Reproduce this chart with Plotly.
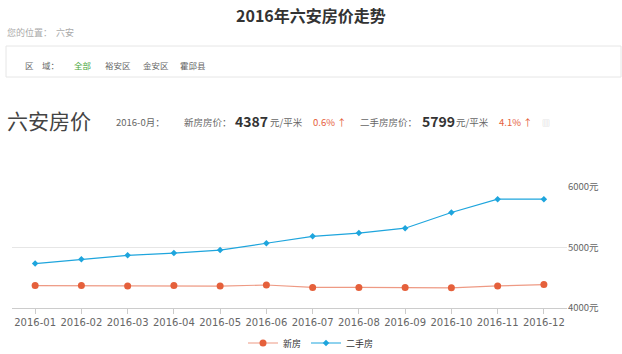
import plotly.graph_objects as go

months = ["2016-01", "2016-02", "2016-03", "2016-04", "2016-05", "2016-06",
          "2016-07", "2016-08", "2016-09", "2016-10", "2016-11", "2016-12"]
new_price = [4370, 4370, 4362, 4370, 4362, 4380, 4340, 4340, 4340, 4333, 4365, 4387]
second_price = [4735, 4805, 4870, 4908, 4957, 5070, 5184, 5238, 5319, 5578, 5799, 5799]
y_ticks = [4000, 5000, 6000]

W, H = 622, 354
L, R, T, B = 12, 55, 187, 46
PW, PH = W - L - R, H - T - B
FONT = "Noto Sans CJK SC"

def px(x):
    return (x - L) / PW

def py(y):
    return (H - B - y) / PH

RED = "#e5603b"
RED_LINE = "#ee9a84"
BLUE = "#1ea5dd"

fig = go.Figure()
fig.add_trace(go.Scatter(
    x=months, y=new_price, name="新房", mode="lines+markers",
    line=dict(color=RED_LINE, width=1.2),
    marker=dict(color=RED, size=7, symbol="circle"),
))
fig.add_trace(go.Scatter(
    x=months, y=second_price, name="二手房", mode="lines+markers",
    line=dict(color=BLUE, width=1.2),
    marker=dict(color=BLUE, size=5, symbol="diamond"),
))

ann = []
def text(x, y, s, size=9, color="#999", anchor="left", bold=False, family=FONT):
    if bold:
        s = "<b>" + s + "</b>"
    ann.append(dict(x=px(x), y=py(y), xref="paper", yref="paper", text=s,
                    showarrow=False, xanchor=anchor, yanchor="middle",
                    font=dict(size=size, color=color, family=family)))

text(311, 15, "2016年六安房价走势", size=16, color="#333", anchor="center", bold=True)
text(5, 33, "您的位置：  六安", size=9, color="#aaa")
text(23, 65, "区　域：", size=8.5, color="#666")
text(72, 65, "全部", size=8.5, color="#4aa63a")
text(103, 65, "裕安区", size=8.5, color="#666")
text(141, 65, "金安区", size=8.5, color="#666")
text(178, 65, "霍邱县", size=8.5, color="#666")
text(5, 120, "六安房价", size=21, color="#444")
text(114, 122, "2016-0月：", size=9.5, color="#666")
text(182, 122, "新房房价：", size=9.5, color="#666")
text(233, 121, "4387", size=14, color="#333", bold=True)
text(268, 122, "元/平米", size=9.5, color="#666")
text(311, 122, "0.6% ↑", size=9.5, color="#e5603b")
text(358, 122, "二手房房价：", size=9.5, color="#666")
text(420, 121, "5799", size=14, color="#333", bold=True)
text(454, 122, "元/平米", size=9.5, color="#666")
text(497, 122, "4.1% ↑", size=9.5, color="#e5603b")
text(540, 122, "▥", size=8, color="#ccc")

shapes = [dict(type="rect", xref="paper", yref="paper",
               x0=px(6), x1=px(621), y0=py(46), y1=py(77),
               line=dict(color="#e6e6e6", width=1), fillcolor="rgba(0,0,0,0)")]

fig.update_layout(
    width=W, height=H,
    margin=dict(l=L, r=R, t=T, b=B, autoexpand=False),
    paper_bgcolor="white", plot_bgcolor="white",
    font=dict(family=FONT, size=10, color="#666"),
    showlegend=True,
    legend=dict(orientation="h", x=0.5, xanchor="center", xref="container",
                y=1 - 343 / H, yanchor="middle", yref="container",
                font=dict(size=9, color="#333", family=FONT), itemwidth=30),
    annotations=ann, shapes=shapes,
    xaxis=dict(type="category", range=[-0.5, 11.5], showgrid=False, automargin=False,
               showline=True, linecolor="#ccc", ticks="outside", ticklen=5,
               tickcolor="#ccc", tickfont=dict(size=10, color="#666", family="DejaVu Sans")),
    yaxis=dict(side="right", range=[4000, 6000], tickvals=y_ticks, automargin=False,
               ticktext=[f"{v}元" for v in y_ticks], showgrid=True, gridcolor="#e6e6e6",
               zeroline=False, showline=False, ticks="",
               tickfont=dict(size=9.5, color="#666", family=FONT)),
)

fig.write_html("out.html")
